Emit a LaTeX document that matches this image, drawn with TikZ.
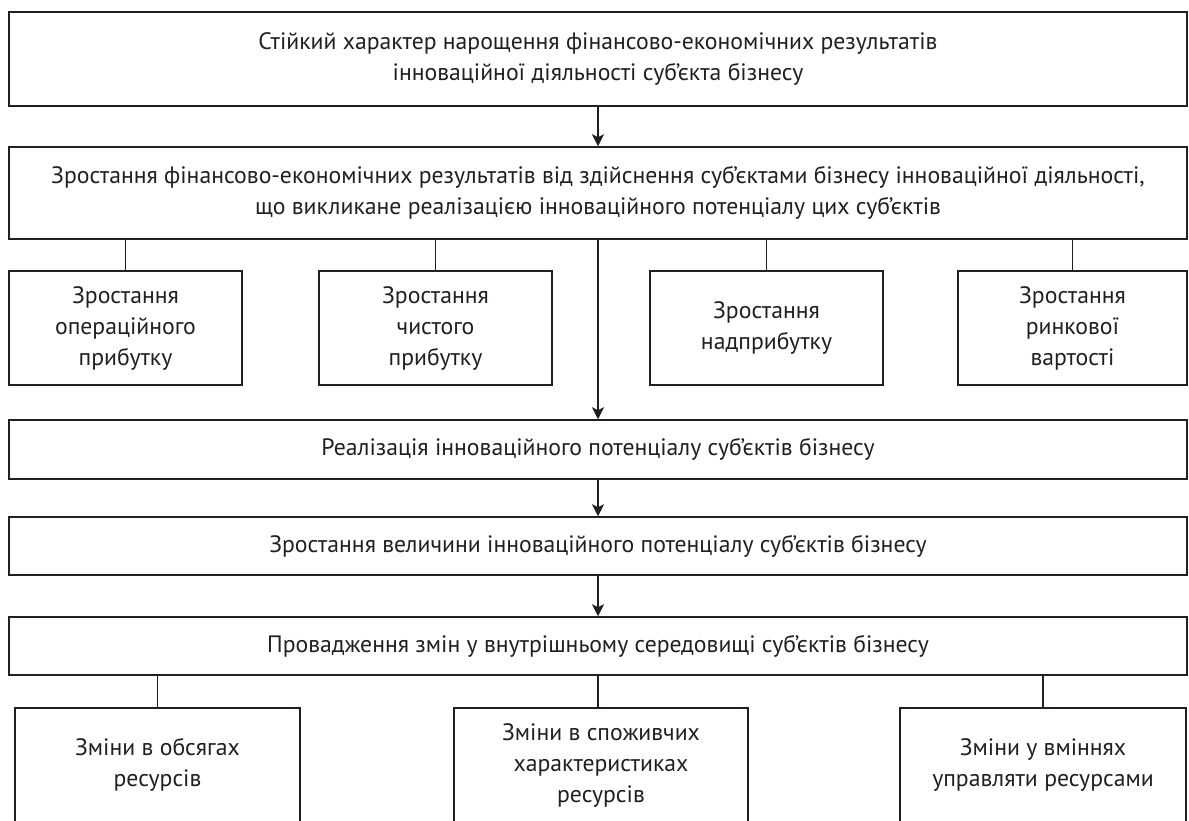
\documentclass[tikz,border=0pt]{standalone}
\usepackage{fontspec}
\setmainfont{PT Sans}
\usetikzlibrary{arrows.meta}
\definecolor{ink}{HTML}{231F20}
\begin{document}
\begin{tikzpicture}[x=1pt,y=-1pt,
  box/.style={draw=ink, line width=1.5pt, align=center, inner sep=0pt, text=ink,
              font=\fontsize{23.7}{31}\selectfont},
  link/.style={draw=ink, line width=1.2pt},
  arr/.style={link, -{Stealth[length=12pt,width=12pt,inset=3pt]}}]
\useasboundingbox[fill=white] (0,0) rectangle (1189,821);
\node[box, minimum width=1178pt, minimum height=94pt] (top) at (598,59)
  {Стійкий характер нарощення фінансово-економічних результатів\\інноваційної діяльності суб’єкта бізнесу};
\node[box, minimum width=1178pt, minimum height=92pt] (res) at (598,193)
  {Зростання фінансово-економічних результатів від здійснення суб’єктами бізнесу інноваційної діяльності,\\що викликане реалізацією інноваційного потенціалу цих суб’єктів};
\node[box, minimum width=233pt, minimum height=114pt] (s1) at (125.5,328) {Зростання\\операційного\\прибутку};
\node[box, minimum width=233pt, minimum height=114pt] (s2) at (435.5,328) {Зростання\\чистого\\прибутку};
\node[box, minimum width=233pt, minimum height=114pt] (s3) at (766.5,328) {Зростання\\надприбутку};
\node[box, minimum width=229pt, minimum height=114pt] (s4) at (1072.5,328) {Зростання\\ринкової\\вартості};
\node[box, minimum width=1178pt, minimum height=59pt] (real) at (598,449.5)
  {Реалізація інноваційного потенціалу суб’єктів бізнесу};
\node[box, minimum width=1178pt, minimum height=58pt] (grow) at (598,546)
  {Зростання величини інноваційного потенціалу суб’єктів бізнесу};
\node[box, minimum width=1178pt, minimum height=58pt] (chg) at (598,646)
  {Провадження змін у внутрішньому середовищі суб’єктів бізнесу};
\node[box, minimum width=285pt, minimum height=114pt] (b1) at (157.5,765) {Зміни в обсягах\\ресурсів};
\node[box, minimum width=294pt, minimum height=114pt] (b2) at (601,765) {Зміни в споживчих\\характеристиках\\ресурсів};
\node[box, minimum width=286pt, minimum height=114pt] (b3) at (1043,765) {Зміни у вміннях\\управляти ресурсами};
\draw[arr] (top) -- (res);
\draw[arr] (res) -- (real);
\draw[arr] (real) -- (grow);
\draw[arr] (grow) -- (chg);
\foreach \s in {s1,s2,s3,s4} \draw[link] (\s.north) -- (\s.north |- res.south);
\draw[link] (b1.north) -- (b1.north |- chg.south);
\draw[link] (chg.south) -- (chg.south |- b2.north);
\draw[link] (b3.north) -- (b3.north |- chg.south);
\end{tikzpicture}
\end{document}
